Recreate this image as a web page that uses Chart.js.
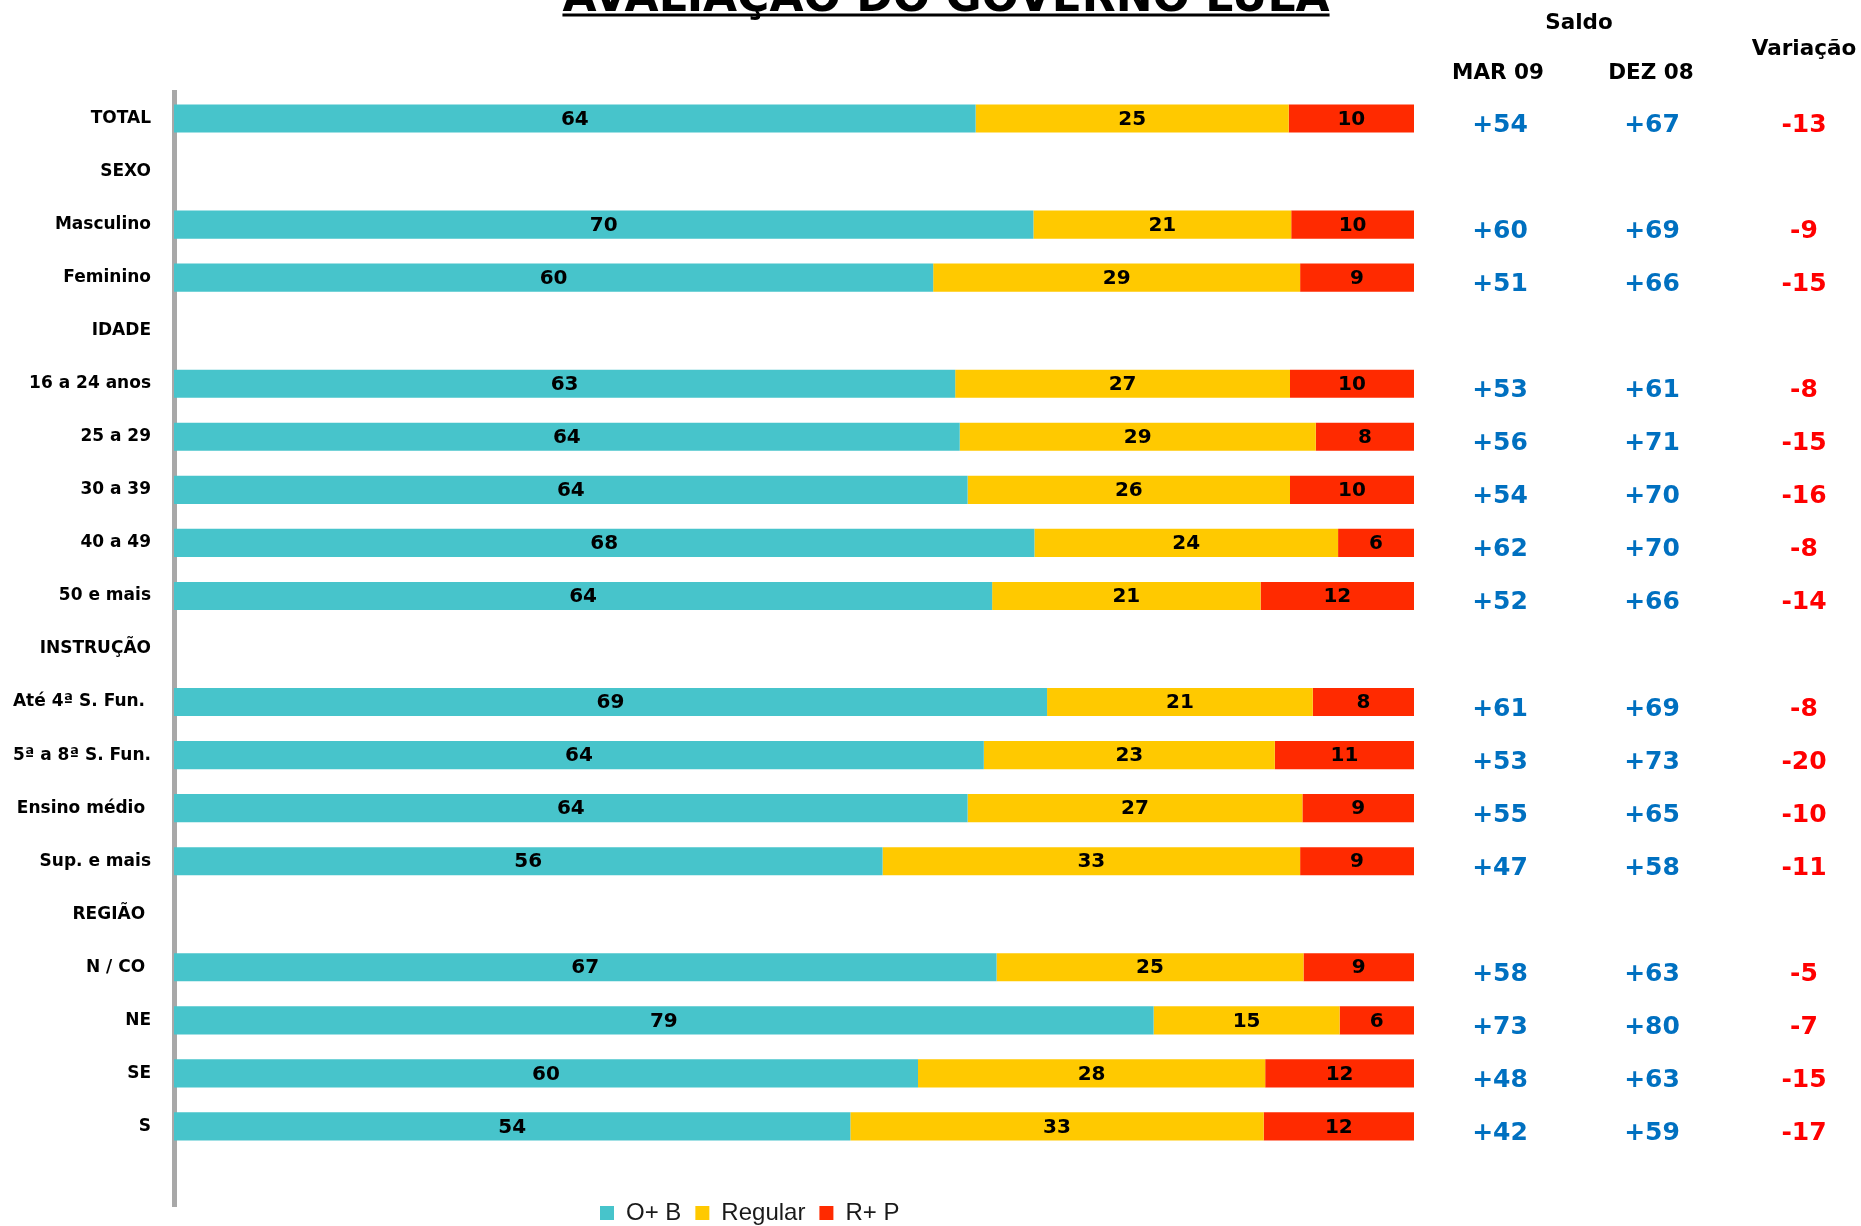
<!DOCTYPE html>
<html>
<head>
<meta charset="utf-8">
<script src="https://cdn.jsdelivr.net/npm/chart.js@4"></script>
<style>
  html, body { margin: 0; padding: 0; background: #ffffff; overflow: hidden; width: 1861px; height: 1226px; }
  canvas { display: block; }
</style>
</head>
<body>
<canvas id="chart" width="1861" height="1254"></canvas>
<script>
// ---------- data ----------
const chartTitle = 'AVALIAÇÃO DO GOVERNO LULA';
const categories = ['TOTAL', 'SEXO', 'Masculino', 'Feminino', 'IDADE', '16 a 24 anos', '25 a 29', '30 a 39', '40 a 49', '50 e mais',
  'INSTRUÇÃO', 'Até 4ª S. Fun. ', '5ª a 8ª S. Fun.', 'Ensino médio ', 'Sup. e mais', 'REGIÃO ', 'N / CO ', 'NE', 'SE', 'S', ''];
const seriesNames = ['O+ B', 'Regular', 'R+ P'];
const otimoBom   = [64, null, 70, 60, null, 63, 64, 64, 68, 64, null, 69, 64, 64, 56, null, 67, 79, 60, 54, null];
const regular    = [25, null, 21, 29, null, 27, 29, 26, 24, 21, null, 21, 23, 27, 33, null, 25, 15, 28, 33, null];
const ruimPessimo = [10, null, 10, 9, null, 10, 8, 10, 6, 12, null, 8, 11, 9, 9, null, 9, 6, 12, 12, null];
const saldoMar09 = [54, null, 60, 51, null, 53, 56, 54, 62, 52, null, 61, 53, 55, 47, null, 58, 73, 48, 42, null];
const saldoDez08 = [67, null, 69, 66, null, 61, 71, 70, 70, 66, null, 69, 73, 65, 58, null, 63, 80, 63, 59, null];
const variacao   = [-13, null, -9, -15, null, -8, -15, -16, -8, -14, null, -8, -20, -10, -11, null, -5, -7, -15, -17, null];
const tableHeaders = { saldo: 'Saldo', mar: 'MAR 09', dez: 'DEZ 08', varia: 'Variação' };

// ---------- styles ----------
const COLORS = ['#47C4CB', '#FFC900', '#FF2A00'];
const rawSeries = [otimoBom, regular, ruimPessimo];

// 100% stacked shares built from the raw arrays
function share(arr, i) {
  if (arr[i] == null) return null;
  const tot = otimoBom[i] + regular[i] + ruimPessimo[i];
  return arr[i] / tot * 100;
}
const datasets = rawSeries.map((arr, k) => ({
  label: seriesNames[k],
  data: categories.map((_, i) => share(arr, i)),
  backgroundColor: COLORS[k],
  borderWidth: 0,
  barPercentage: 0.53,
  categoryPercentage: 1.0
}));

function fmtSigned(v) { return v > 0 ? '+' + v : String(v); }

const barLabels = {
  id: 'barLabels',
  afterDatasetsDraw(chart) {
    const ctx = chart.ctx;
    ctx.save();
    ctx.font = 'bold 20px "DejaVu Sans"';
    ctx.fillStyle = '#000';
    ctx.textAlign = 'center';
    ctx.textBaseline = 'middle';
    chart.data.datasets.forEach((ds, di) => {
      const meta = chart.getDatasetMeta(di);
      meta.data.forEach((el, i) => {
        const raw = rawSeries[di][i];
        if (raw == null) return;
        ctx.fillText(String(raw), (el.x + el.base) / 2, el.y + 1);
      });
    });
    ctx.restore();
  }
};

const decorations = {
  id: 'decorations',
  afterDraw(chart) {
    const ctx = chart.ctx;
    const yScale = chart.scales.y;
    ctx.save();
    // title (mostly above the visible page, underlined)
    ctx.font = 'bold 44px "DejaVu Sans"';
    ctx.fillStyle = '#000';
    ctx.textAlign = 'center';
    ctx.textBaseline = 'alphabetic';
    ctx.fillText(chartTitle, 946, 11);
    const tw = ctx.measureText(chartTitle).width;
    ctx.fillRect(946 - tw / 2, 13.5, tw, 3);
    // table headers
    ctx.font = 'bold 21.5px "DejaVu Sans"';
    ctx.fillText(tableHeaders.saldo, 1579, 29);
    ctx.fillText(tableHeaders.mar, 1498, 79);
    ctx.fillText(tableHeaders.dez, 1651, 79);
    ctx.fillText(tableHeaders.varia, 1804, 55);
    // table values
    ctx.font = 'bold 25px "DejaVu Sans"';
    ctx.textBaseline = 'middle';
    categories.forEach((c, i) => {
      if (saldoMar09[i] == null) return;
      const py = yScale.getPixelForValue(i) + 7;
      ctx.fillStyle = '#0070C0';
      ctx.fillText(fmtSigned(saldoMar09[i]), 1500, py);
      ctx.fillText(fmtSigned(saldoDez08[i]), 1652, py);
      ctx.fillStyle = '#FF0000';
      ctx.fillText(fmtSigned(variacao[i]), 1804, py);
    });
    ctx.restore();
  }
};

const legendPlacer = {
  id: 'legendPlacer',
  afterLayout(chart) {
    const lg = chart.legend;
    if (!lg) return;
    const h = lg.height;
    lg.top = 1187;
    lg.bottom = 1187 + h;
    lg.left = 586;
    lg.right = 1861;
    lg.width = lg.right - lg.left;
  }
};

new Chart(document.getElementById('chart'), {
  type: 'bar',
  data: { labels: categories, datasets: datasets },
  options: {
    indexAxis: 'y',
    responsive: false,
    animation: false,
    devicePixelRatio: 1,
    layout: { padding: { top: 92, right: 447, left: 0, bottom: 0 } },
    scales: {
      x: { display: false, stacked: true, min: 0, max: 100 },
      y: {
        stacked: true,
        grid: { display: true, drawOnChartArea: false, drawTicks: false, color: 'rgba(0,0,0,0)' },
        border: { display: true, color: '#A8A8A8', width: 5 },
        ticks: {
          autoSkip: false,
          color: '#000',
          padding: 23,
          font: { family: 'DejaVu Sans', weight: 'bold', size: 17 }
        },
        afterFit(scale) { scale.width = 174; }
      }
    },
    plugins: {
      legend: {
        position: 'bottom',
        align: 'start',
        labels: {
          boxWidth: 14,
          boxHeight: 14,
          padding: 14,
          color: '#1a1a1a',
          font: { family: 'Liberation Sans', size: 24 }
        }
      },
      tooltip: { enabled: false }
    }
  },
  plugins: [barLabels, decorations, legendPlacer]
});
</script>
</body>
</html>
